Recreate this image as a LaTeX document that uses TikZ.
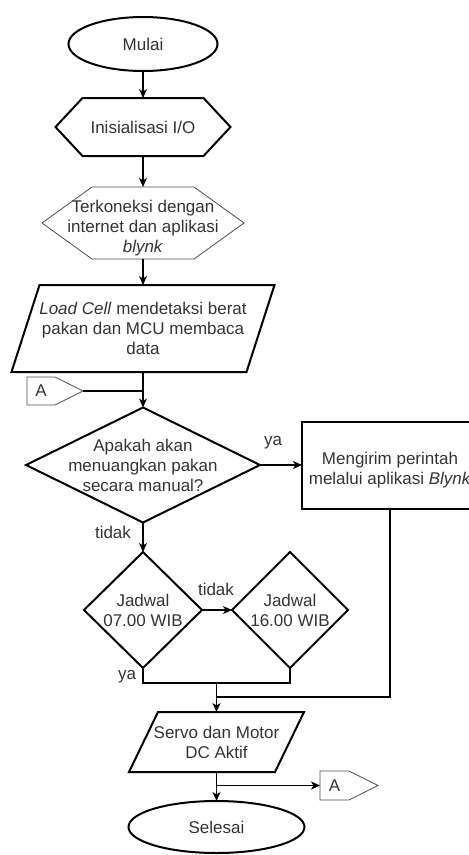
\documentclass[tikz,border=0pt]{standalone}
\usepackage{fontspec}
\setmainfont{Liberation Sans}
\usetikzlibrary{shapes.geometric,arrows.meta,calc}
\definecolor{txt}{gray}{0.2}
\tikzset{
  base/.style={font=\fontsize{17}{20}\selectfont, text=txt, align=center, inner sep=0pt, outer sep=0pt},
  lbl/.style={font=\fontsize{17}{20}\selectfont, text=txt, inner sep=0pt},
  shapeline/.style={draw=black, line width=2pt, line join=miter},
  thinline/.style={draw=black!70, line width=0.8pt},
  link/.style={draw=black, line width=1.2pt},
  flow/.style={link, -{Stealth[length=9pt,width=8pt,inset=2.5pt]}},
}
\begin{document}
\begin{tikzpicture}[x=1pt,y=-1pt]
\clip (0,0) rectangle (469,855);
\useasboundingbox (0,0) rectangle (469,855);

% Mulai
\node[base, ellipse, shapeline, minimum width=149pt, minimum height=54pt] (mulai) at (143,44) {Mulai};

% Inisialisasi hexagon
\node[base, minimum width=175pt, minimum height=58pt] (init) at (143,127) {Inisialisasi I/O};
\draw[shapeline] (init.west) -- ([xshift=27pt]init.north west) -- ([xshift=-27pt]init.north east)
  -- (init.east) -- ([xshift=-27pt]init.south east) -- ([xshift=27pt]init.south west) -- cycle;

% Terkoneksi hexagon
\node[base, minimum width=202pt, minimum height=72pt] (konek) at (143,223)
  {\rule{0pt}{23pt}Terkoneksi dengan\\internet dan aplikasi\\\textit{blynk}};
\draw[thinline] (konek.west) -- ([xshift=50pt]konek.north west) -- ([xshift=-50pt]konek.north east)
  -- (konek.east) -- ([xshift=-50pt]konek.south east) -- ([xshift=50pt]konek.south west) -- cycle;

% Load cell parallelogram
\node[base, minimum width=263pt, minimum height=87pt] (load) at (143,328.5)
  {\textit{Load Cell} mendetaksi berat\\pakan dan MCU membaca\\data};
\draw[shapeline] ([xshift=28pt]load.north west) -- (load.north east) -- ([xshift=-28pt]load.south east)
  -- (load.south west) -- cycle;

% Connector A (in)
\node[base, minimum width=28pt, minimum height=28pt] (ain) at (41,391) {A};
\coordinate (aintip) at ($(ain.east)+(28,0)$);
\draw[thinline] (ain.north west) -- (ain.north east) -- (aintip) -- (ain.south east) -- (ain.south west) -- cycle;

% Decision
\node[base, minimum width=234pt, minimum height=115pt] (tanya) at (143,465)
  {Apakah akan\\menuangkan pakan\\secara manual?};
\draw[shapeline] (tanya.north) -- (tanya.east) -- (tanya.south) -- (tanya.west) -- cycle;

% Mengirim box
\node[base, shapeline, minimum width=176pt, minimum height=87pt] (kirim) at (390,465)
  {\rule{0pt}{22pt}Mengirim perintah\\melalui aplikasi \textit{Blynk}};

% Jadwal diamonds
\node[base, minimum width=118pt, minimum height=116pt] (j7) at (143,610) {Jadwal\\07.00 WIB};
\draw[shapeline] (j7.north) -- (j7.east) -- (j7.south) -- (j7.west) -- cycle;
\node[base, minimum width=116pt, minimum height=116pt] (j16) at (290,610) {Jadwal\\16.00 WIB};
\draw[shapeline] (j16.north) -- (j16.east) -- (j16.south) -- (j16.west) -- cycle;

% Servo parallelogram
\node[base, minimum width=175pt, minimum height=60pt] (servo) at (216.5,742) {Servo dan Motor\\DC Aktif};
\draw[shapeline] ([xshift=29pt]servo.north west) -- (servo.north east) -- ([xshift=-29pt]servo.south east)
  -- (servo.south west) -- cycle;

% Selesai
\node[base, ellipse, shapeline, minimum width=176pt, minimum height=52pt] (selesai) at (216.5,827) {Selesai};

% Connector A (out)
\node[base, minimum width=29pt, minimum height=29pt] (aout) at (334.5,785.5) {A};
\coordinate (aouttip) at ($(aout.east)+(29,0)$);
\draw[thinline] (aout.north west) -- (aout.north east) -- (aouttip) -- (aout.south east) -- (aout.south west) -- cycle;

% Connectors
\draw[flow] (mulai) -- (init);
\draw[flow] (init) -- (konek);
\draw[flow] (konek) -- (load);
\draw[flow] (load) -- (tanya);
\draw[link] (aintip) -- (aintip -| tanya.north);
\draw[flow] (tanya) -- (kirim);
\draw[flow] (tanya) -- (j7);
\draw[flow] (j7) -- (j16);
\coordinate (jm) at (216.5,683);
\coordinate (jk) at (216.5,697);
\draw[link] (j7.south) -- (j7.south |- jm) -- (j16.south |- jm) -- (j16.south);
\draw[link] (kirim.south) |- (jk);
\draw[flow] (jm) -- (servo.north);
\draw[flow] (servo) -- (selesai);
\coordinate (sa) at (216.5,785.5);
\draw[flow] (sa) -- (aout.west);

% Labels
\node[lbl] (lya1) at (273,443) {ya};
\node[lbl] (ltidak1) at (113,532) {tidak};
\node[lbl] (ltidak2) at (216,589) {tidak};
\node[lbl] (lya2) at (127,677) {ya};
\end{tikzpicture}
\end{document}
